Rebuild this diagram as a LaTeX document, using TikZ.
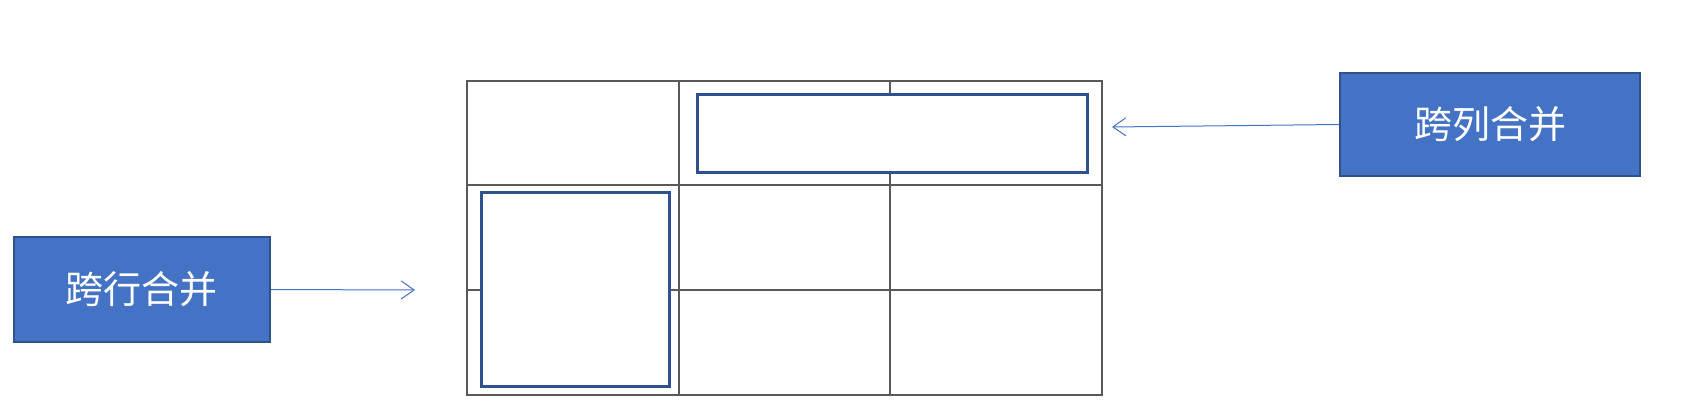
\documentclass[tikz,border=0pt]{standalone}
\usepackage{fontspec}
\newfontfamily\cjk{Noto Sans CJK SC}
\usetikzlibrary{arrows.meta}
\definecolor{boxblue}{HTML}{4472C4}
\definecolor{boxedge}{HTML}{2F528F}
\definecolor{gridgray}{HTML}{595959}
\definecolor{mergeblue}{HTML}{2F528F}
\begin{document}
\begin{tikzpicture}[x=1pt,y=-1pt,
  label box/.style={draw=boxedge, line width=2pt, fill=boxblue, text=white, inner sep=0pt,
    font=\cjk\fontsize{38}{44}\selectfont},
  merge box/.style={draw=mergeblue, line width=3pt, inner sep=0pt},
  gridline/.style={draw=gridgray, line width=2.2pt},
  pointer/.style={draw=boxblue, line width=1pt, -{Straight Barb[length=13pt,width=18pt,line width=1pt]}}]
\useasboundingbox[fill=white] (0,0) rectangle (1690,417);
% grid
\draw[gridline] (467,81) rectangle (1102,395);
\draw[gridline] (679,81) -- (679,395);
\draw[gridline] (890,81) -- (890,395);
\draw[gridline] (467,185) -- (1102,185);
\draw[gridline] (467,290) -- (1102,290);
% merged regions
\node[merge box, fill=white, minimum width=390pt, minimum height=78pt] (colmerge) at (892,134) {};
\node[merge box, fill=white, minimum width=188pt, minimum height=194pt] (rowmerge) at (575,289) {};
% labels
\node[label box, minimum width=256pt, minimum height=105pt] (lbox) at (141.5,289.5) {跨行合并};
\node[label box, minimum width=300pt, minimum height=103pt] (rbox) at (1490,124.5) {跨列合并};
% arrows
\coordinate (la) at (415,290);
\coordinate (ra) at (1112,127);
\draw[pointer] (lbox.east) -- (la);
\draw[pointer] (rbox.west) -- (ra);
\end{tikzpicture}
\end{document}
